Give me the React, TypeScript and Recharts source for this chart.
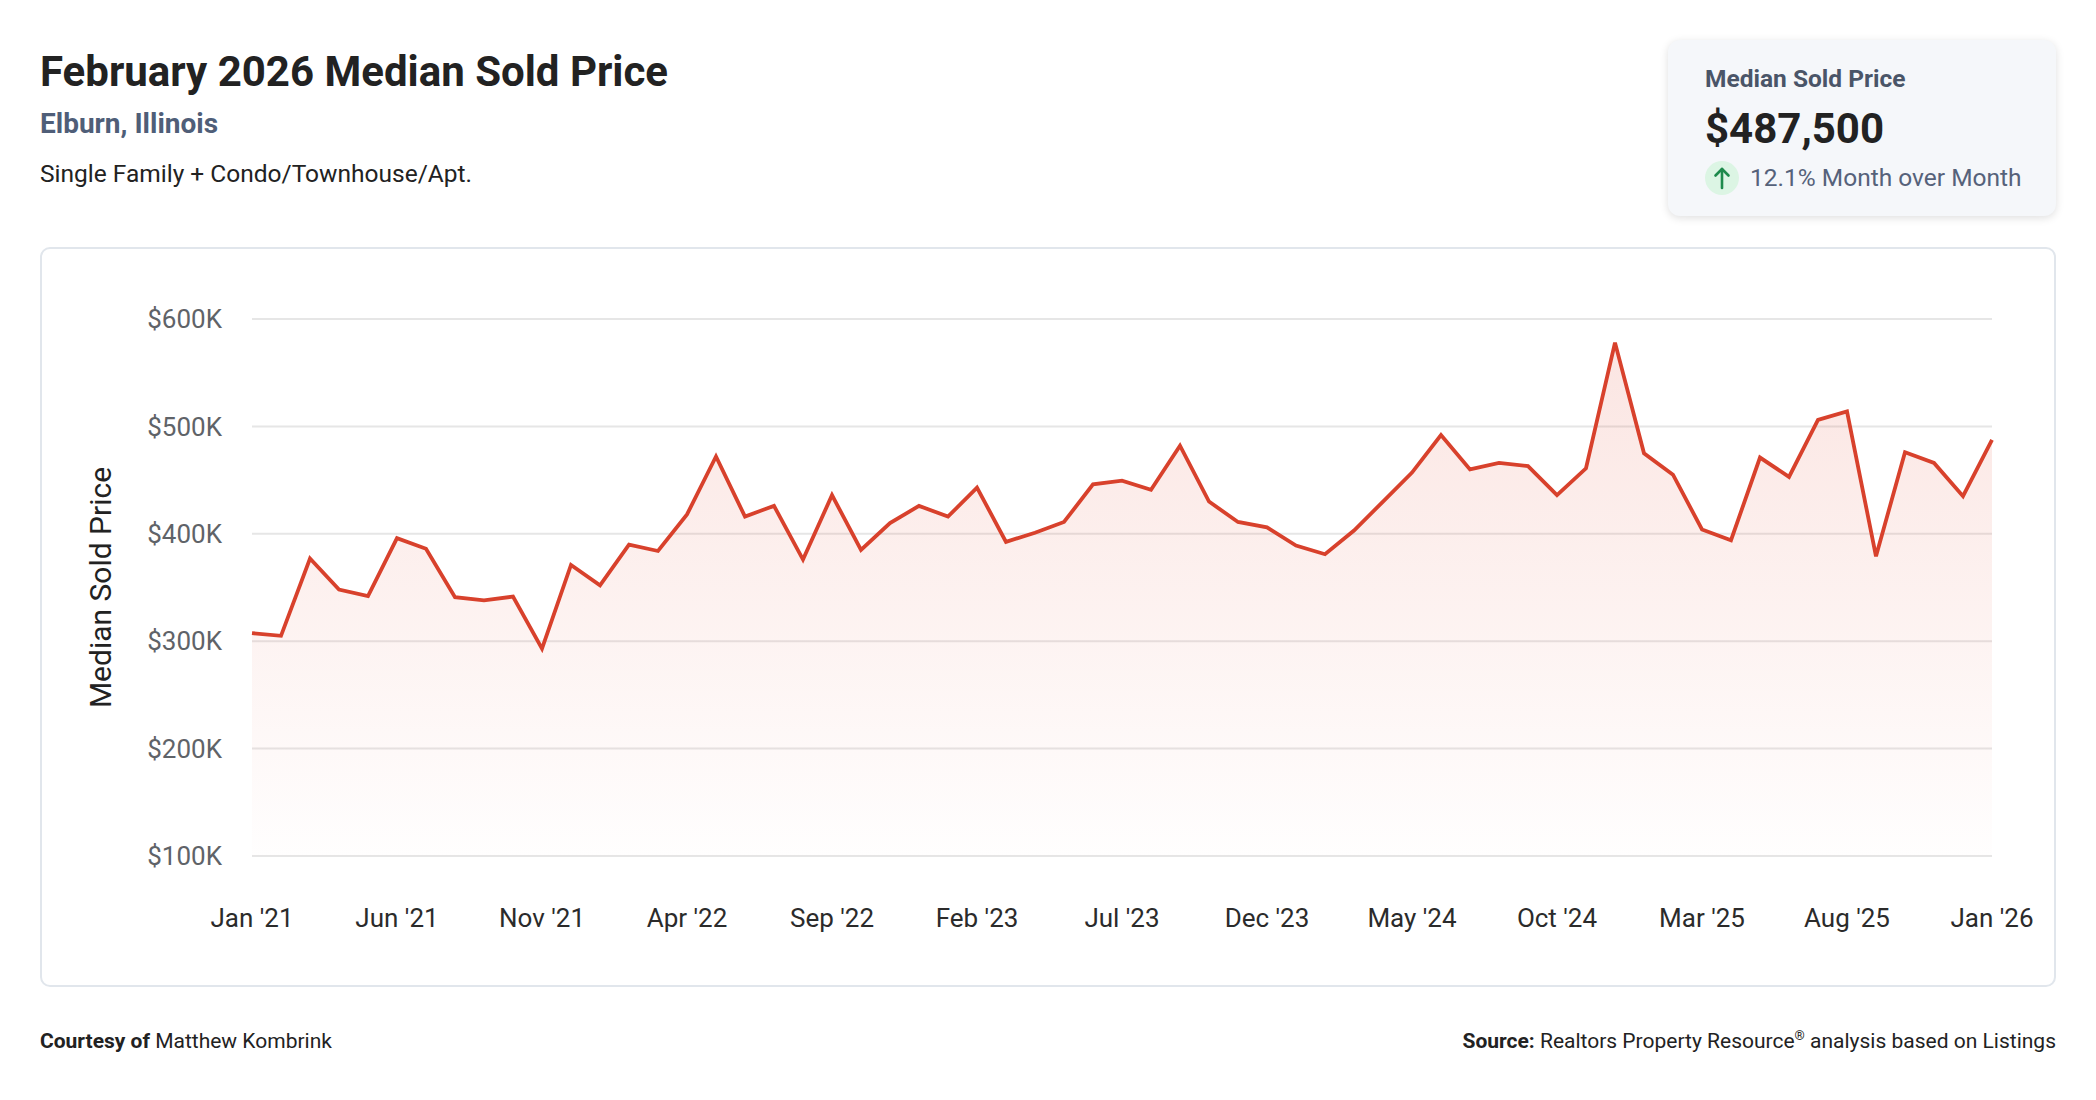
import React from 'react';
import {
  ComposedChart,
  Area,
  XAxis,
  YAxis,
  CartesianGrid,
} from 'recharts';

const MONTHS: string[] = [
  "Jan '21", "Feb '21", "Mar '21", "Apr '21", "May '21", "Jun '21", "Jul '21", "Aug '21", "Sep '21", "Oct '21", "Nov '21", "Dec '21",
  "Jan '22", "Feb '22", "Mar '22", "Apr '22", "May '22", "Jun '22", "Jul '22", "Aug '22", "Sep '22", "Oct '22", "Nov '22", "Dec '22",
  "Jan '23", "Feb '23", "Mar '23", "Apr '23", "May '23", "Jun '23", "Jul '23", "Aug '23", "Sep '23", "Oct '23", "Nov '23", "Dec '23",
  "Jan '24", "Feb '24", "Mar '24", "Apr '24", "May '24", "Jun '24", "Jul '24", "Aug '24", "Sep '24", "Oct '24", "Nov '24", "Dec '24",
  "Jan '25", "Feb '25", "Mar '25", "Apr '25", "May '25", "Jun '25", "Jul '25", "Aug '25", "Sep '25", "Oct '25", "Nov '25", "Dec '25",
  "Jan '26",
];

const MEDIAN_PRICES: number[] = [
  307500, 305000, 377000, 348000, 342000, 396000, 386000, 341000, 338000, 341500, 293000, 371000,
  352000, 390000, 384000, 418000, 472000, 416000, 426000, 376000, 436000, 385000, 410000, 426000,
  416000, 443000, 392500, 401000, 411000, 446000, 449500, 441000, 482000, 430000, 411000, 406000,
  389000, 381000, 403000, 430000, 457000, 492000, 460000, 466000, 463000, 436000, 461000, 578000,
  475000, 455000, 404000, 394000, 471000, 453000, 506000, 514000, 379000, 476000, 466000, 435000,
  487500,
];

const Y_TICKS: number[] = [100000, 200000, 300000, 400000, 500000, 600000];

const chartData = MONTHS.map((m, i) => ({ month: m, price: MEDIAN_PRICES[i] }));

const FONT = 'Roboto, "Noto Sans", Arial, sans-serif';
const LINE_COLOR = '#d8412c';

const fmtK = (v: number) => `$${Math.round(v / 1000)}K`;

export default function App() {
  return (
    <div
      style={{
        position: 'absolute',
        left: 0,
        top: 0,
        width: 2096,
        height: 1100,
        background: '#ffffff',
        fontFamily: FONT,
        overflow: 'hidden',
      }}
    >
      {/* Header */}
      <div style={{ position: 'absolute', left: 40, top: 51, fontSize: 42, lineHeight: '42px', fontWeight: 700, color: '#222222', whiteSpace: 'nowrap' }}>
        February 2026 Median Sold Price
      </div>
      <div style={{ position: 'absolute', left: 40, top: 110, fontSize: 28, lineHeight: '28px', fontWeight: 700, color: '#4f5e78', whiteSpace: 'nowrap' }}>
        Elburn, Illinois
      </div>
      <div style={{ position: 'absolute', left: 40, top: 162, fontSize: 24.5, lineHeight: '24px', fontWeight: 400, color: '#222222', whiteSpace: 'nowrap' }}>
        Single Family + Condo/Townhouse/Apt.
      </div>

      {/* Stat card */}
      <div
        style={{
          position: 'absolute',
          left: 1668,
          top: 40,
          width: 388,
          height: 176,
          background: '#f5f7fa',
          borderRadius: 12,
          boxShadow: '0 2px 8px rgba(0,0,0,0.13)',
        }}
      >
        <div style={{ position: 'absolute', left: 37, top: 26, fontSize: 24.5, lineHeight: '25px', fontWeight: 700, color: '#4a5568', whiteSpace: 'nowrap' }}>
          Median Sold Price
        </div>
        <div style={{ position: 'absolute', left: 37, top: 67, fontSize: 42, lineHeight: '44px', fontWeight: 700, color: '#222222', whiteSpace: 'nowrap' }}>
          $487,500
        </div>
        <div
          style={{
            position: 'absolute',
            left: 37,
            top: 121,
            width: 34,
            height: 34,
            borderRadius: 17,
            background: '#dcf5e4',
          }}
        >
          <svg width={34} height={34} viewBox="0 0 34 34">
            <line x1={17} y1={8} x2={17} y2={27} stroke="#1e8a4c" strokeWidth={2.6} strokeLinecap="round" />
            <polyline points="10.5,14.5 17,8 23.5,14.5" fill="none" stroke="#1e8a4c" strokeWidth={2.6} strokeLinecap="round" strokeLinejoin="round" />
          </svg>
        </div>
        <div style={{ position: 'absolute', left: 82, top: 125, fontSize: 24.5, lineHeight: '25px', fontWeight: 400, color: '#56627a', whiteSpace: 'nowrap' }}>
          12.1% Month over Month
        </div>
      </div>

      {/* Chart box */}
      <div
        style={{
          position: 'absolute',
          left: 40,
          top: 247,
          width: 2016,
          height: 740,
          boxSizing: 'border-box',
          border: '2px solid #e1e6ec',
          borderRadius: 10,
        }}
      />
      <div style={{ position: 'absolute', left: 40, top: 247 }}>
        <ComposedChart
          width={2016}
          height={740}
          data={chartData}
          margin={{ top: 72, right: 64, bottom: 0, left: 0 }}
        >
          <defs>
            <linearGradient id="priceFill" x1="0" y1="0" x2="0" y2="1">
              <stop offset="0%" stopColor="#e4523c" stopOpacity={0.25} />
              <stop offset="100%" stopColor="#e4523c" stopOpacity={0.01} />
            </linearGradient>
          </defs>
          <CartesianGrid vertical={false} stroke="#e6e6e6" strokeWidth={2} />
          <XAxis
            dataKey="month"
            interval={4}
            tickLine={false}
            axisLine={false}
            tickSize={0}
            tickMargin={53}
            height={131}
            tick={{ fill: '#2b2b2b', fontSize: 26, fontFamily: FONT }}
          />
          <YAxis
            domain={[100000, 600000]}
            ticks={Y_TICKS}
            tickFormatter={fmtK}
            tickLine={false}
            axisLine={false}
            tickSize={0}
            tickMargin={30}
            width={212}
            tick={{ fill: '#5f6368', fontSize: 26, fontFamily: FONT }}
            label={{
              content: (props: any) => {
                const vb = props.viewBox || {};
                const cx = (vb.x || 0) + 60;
                const cy = (vb.y || 0) + (vb.height || 0) / 2;
                return (
                  <text
                    x={cx}
                    y={cy}
                    transform={`rotate(-90, ${cx}, ${cy})`}
                    textAnchor="middle"
                    dominantBaseline="central"
                    fontSize={30}
                    fontFamily={FONT}
                    fill="#222222"
                  >
                    Median Sold Price
                  </text>
                );
              },
            }}
          />
          <Area
            type="linear"
            dataKey="price"
            stroke={LINE_COLOR}
            strokeWidth={3.8}
            fill="url(#priceFill)"
            dot={false}
            activeDot={false}
            isAnimationActive={false}
          />
        </ComposedChart>
      </div>

      {/* Footer */}
      <div style={{ position: 'absolute', left: 40, top: 1031, fontSize: 21, lineHeight: '21px', color: '#222222', whiteSpace: 'nowrap' }}>
        <span style={{ fontWeight: 700 }}>Courtesy of</span> Matthew Kombrink
      </div>
      <div style={{ position: 'absolute', right: 40, top: 1031, fontSize: 21, lineHeight: '21px', color: '#222222', whiteSpace: 'nowrap', textAlign: 'right' }}>
        <span style={{ fontWeight: 700 }}>Source:</span> Realtors Property Resource
        <sup style={{ fontSize: 13, lineHeight: 0, verticalAlign: 'super' }}>®</sup> analysis based on Listings
      </div>
    </div>
  );
}
